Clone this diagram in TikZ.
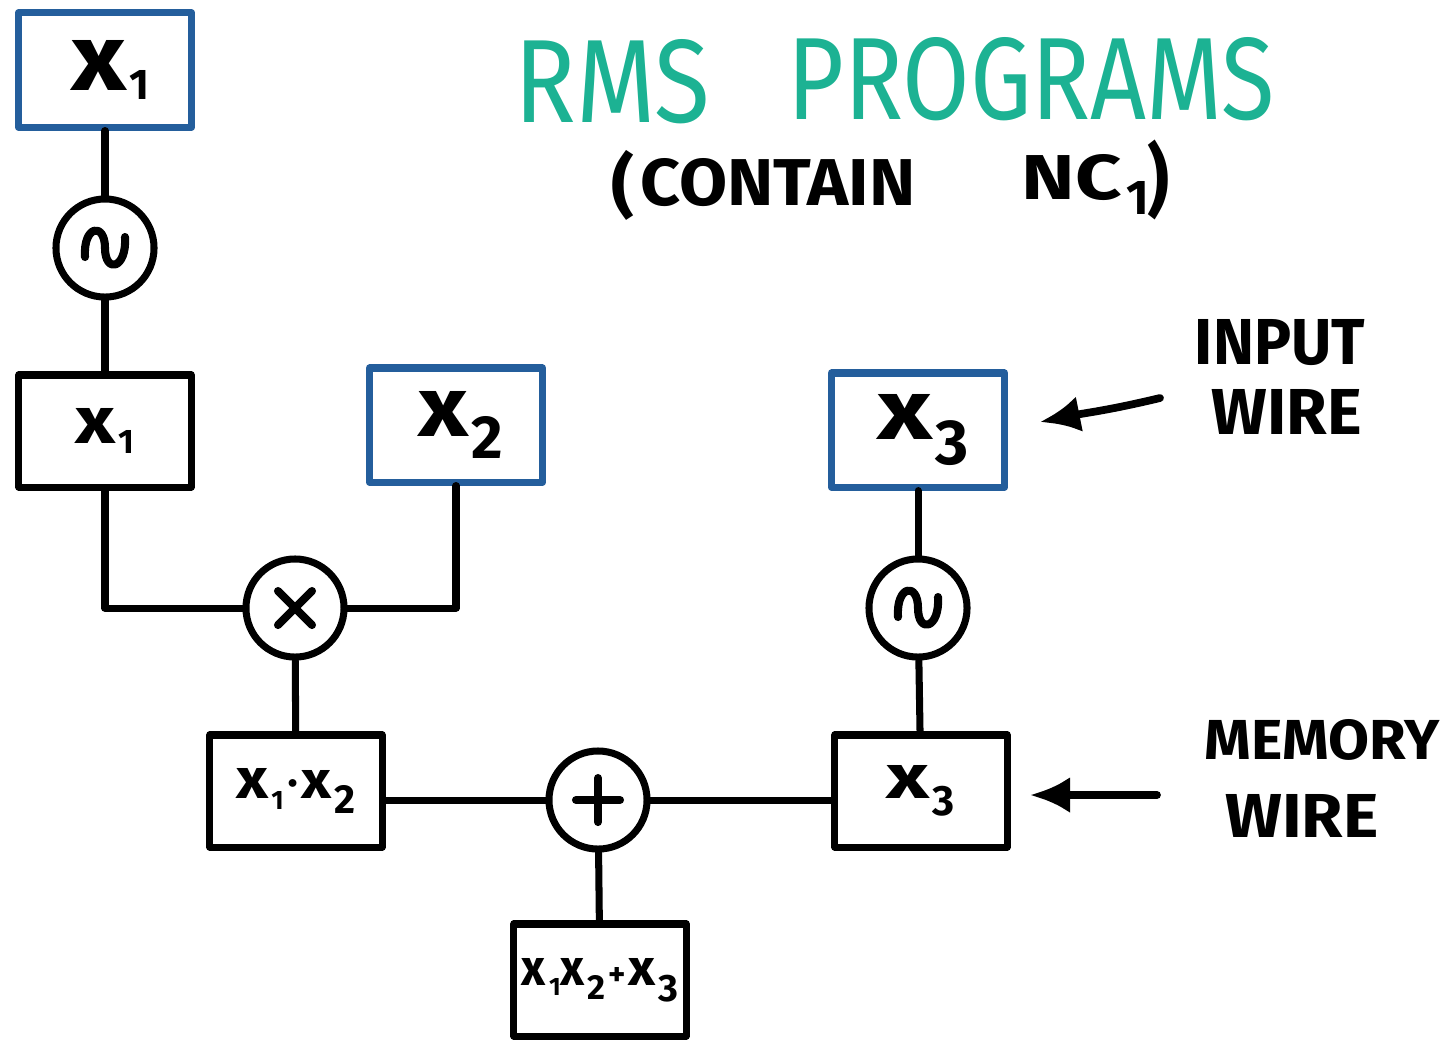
\documentclass[tikz,border=0pt]{standalone}
\usepackage{fontspec}
\setmainfont{Fira Sans}
\usetikzlibrary{arrows.meta}
\definecolor{wireblue}{HTML}{245E9C}
\definecolor{titleteal}{HTML}{1CB293}
% a text stretched to a given width and height (cm)
\newcommand\fitbox[3]{\resizebox{#1cm}{#2cm}{#3}}
% a variable x with a lowered subscript: x-width, x-height, sub-height, drop, sub
\newcommand\xvar[5]{\resizebox{#1cm}{#2cm}{x}\kern0.03cm\raisebox{-#4cm}{\resizebox*{!}{#3cm}{#5}}}
\begin{document}
\begin{tikzpicture}[x=0.01cm,y=-0.01cm,line width=2pt,line cap=round,line join=round,
  gate/.style={draw,rectangle,inner sep=0pt,font=\bfseries},
  inwire/.style={gate,draw=wireblue,minimum width=1.73cm,minimum height=1.14cm},
  memwire/.style={gate,draw=black,minimum width=1.72cm,minimum height=1.12cm},
  op/.style={draw,circle,minimum size=0.98cm,inner sep=0pt},
  glyph/.style={line width=2.3pt},
  lbl/.style={inner sep=0pt,font=\bfseries},
  ttl/.style={inner sep=0pt,text=titleteal},
  pointer/.style={-{Latex[length=0.40cm,width=0.36cm]},line width=2.2pt}
]
\useasboundingbox (0,0) rectangle (1452,1041);

% title
\node[ttl] (t1) at (612,82) {\fitbox{1.95}{0.83}{RMS}};
\node[ttl] (t2) at (1031,79) {\fitbox{4.87}{0.82}{PROGRAMS}};
\node[lbl] (p1) at (623,185) {\resizebox*{0.23cm}{0.70cm}{(}};
\node[lbl] (t3) at (778,183) {\fitbox{2.75}{0.47}{CONTAIN}};
\node[lbl] (t4) at (1072,178) {\fitbox{1.00}{0.45}{NC}};
\node[lbl] (t5) at (1138,198) {\resizebox*{!}{0.33cm}{1}};
\node[lbl] (p2) at (1158,180) {\resizebox*{0.22cm}{0.80cm}{)}};

% wires
\node[inwire]  (inA)  at (105,70)  {\kern0.1cm\xvar{0.55}{0.50}{0.29}{0.09}{1}};
\node[op]      (sinA) at (105,248) {};
\node[memwire] (memA) at (105,431) {\xvar{0.40}{0.35}{0.23}{0.10}{1}};
\node[inwire]  (inB)  at (456,425) {\kern0.1cm\xvar{0.50}{0.45}{0.42}{0.22}{2}};
\node[op]      (mul)  at (295,608) {};
\node[memwire] (memB) at (296,791) {\xvar{0.32}{0.30}{0.18}{0.11}{1}\kern0.04cm\raisebox{0.1cm}{\resizebox*{!}{0.09cm}{$\bullet$}}\kern0.04cm\xvar{0.30}{0.28}{0.28}{0.15}{2}};
\node[op]      (add)  at (598,800) {};
\node[memwire] (out)  at (600,980) {\xvar{0.24}{0.27}{0.17}{0.10}{1}\xvar{0.24}{0.27}{0.24}{0.14}{2}\kern0.03cm\resizebox*{!}{0.18cm}{+}\kern0.02cm\xvar{0.27}{0.27}{0.27}{0.16}{3}};
\node[inwire]  (inC)  at (918,430) {\kern0.1cm\xvar{0.55}{0.45}{0.45}{0.25}{3}};
\node[op]      (sinC) at (918,608) {};
\node[memwire] (memC) at (921,791) {\xvar{0.43}{0.33}{0.30}{0.17}{3}};

% gate symbols
\draw[glyph] ([shift={(-20,9)}]sinA.center) .. controls +(-2,-32) and +(0,-26) .. (sinA.center) .. controls +(0,26) and +(2,32) .. ([shift={(20,-11)}]sinA.center);
\draw[glyph] ([shift={(-20,9)}]sinC.center) .. controls +(-2,-32) and +(0,-26) .. (sinC.center) .. controls +(0,26) and +(2,32) .. ([shift={(20,-11)}]sinC.center);
\draw[glyph] ([shift={(-17,-17)}]mul.center) -- ([shift={(17,17)}]mul.center)
             ([shift={(17,-17)}]mul.center) -- ([shift={(-17,17)}]mul.center);
\draw[glyph] ([shift={(-22,0)}]add.center) -- ([shift={(22,0)}]add.center)
             ([shift={(0,-22)}]add.center) -- ([shift={(0,22)}]add.center);

% connections
\draw (inA) -- (sinA);
\draw (sinA) -- (memA);
\draw (memA.south) |- (mul.west);
\draw (inB.south) |- (mul.east);
\draw (mul) -- (memB);
\draw (add.west) -- (add.west -| memB.east);
\draw (add.east) -- (add.east -| memC.west);
\draw (add) -- (out);
\draw (inC) -- (sinC);
\draw (sinC) -- (memC);

% annotations
\node[lbl] (l1) at (1280,343) {\fitbox{1.70}{0.45}{INPUT}};
\node[lbl] (l2) at (1287,412) {\fitbox{1.50}{0.45}{WIRE}};
\node[lbl] (l3) at (1322,740) {\fitbox{2.35}{0.40}{MEMORY}};
\node[lbl] (l4) at (1302,816) {\fitbox{1.53}{0.43}{WIRE}};
\coordinate (inTail) at (1160,398);
\coordinate (inTip) at (1040,422);
\coordinate (memTail) at (1157,795);
\coordinate (memTip) at (1030,795);
\draw[pointer] (inTail) .. controls (1110,410) and (1085,413) .. (inTip);
\draw[pointer] (memTail) -- (memTip);
\end{tikzpicture}
\end{document}
